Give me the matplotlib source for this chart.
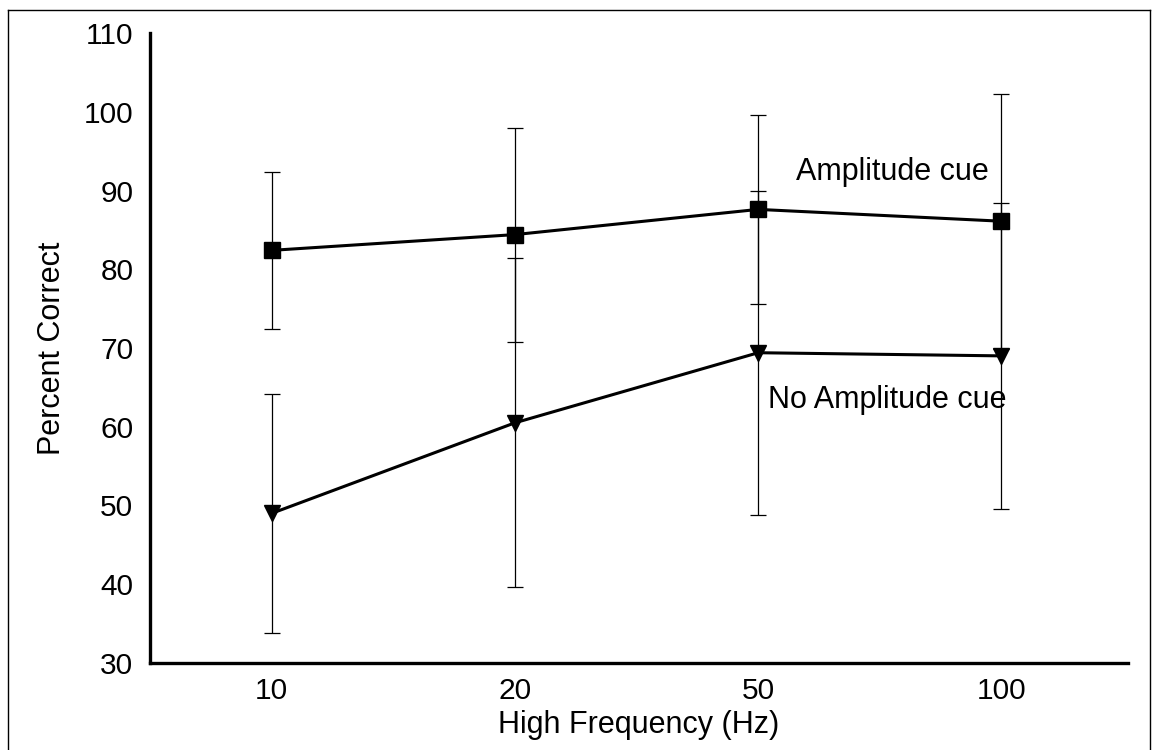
import matplotlib
matplotlib.use("Agg")
import matplotlib.pyplot as plt
from matplotlib.lines import Line2D

categories = ["10", "20", "50", "100"]
amp_mean = [82.4, 84.4, 87.6, 86.1]
amp_err = [10.0, 13.6, 12.0, 16.2]
noamp_mean = [49.0, 60.5, 69.4, 69.0]
noamp_err = [15.2, 20.9, 20.6, 19.4]
yticks = [30, 40, 50, 60, 70, 80, 90, 100, 110]

plt.rcParams['font.family'] = ['Liberation Sans', 'DejaVu Sans']

fig = plt.figure(figsize=(11.54, 7.5), dpi=100)
ax = fig.add_axes([150/1154, (750-663)/750, (1128-150)/1154, (663-33)/750])

x = list(range(len(categories)))

ax.errorbar(x, amp_mean, yerr=amp_err, fmt='none', ecolor='black',
            elinewidth=0.9, capsize=6, capthick=0.9, zorder=2)
ax.errorbar(x, noamp_mean, yerr=noamp_err, fmt='none', ecolor='black',
            elinewidth=0.9, capsize=6, capthick=0.9, zorder=2)
ax.plot(x, amp_mean, color='black', lw=2.2, marker='s', ms=12, zorder=3)
ax.plot(x, noamp_mean, color='black', lw=2.2, marker='v', ms=12, zorder=3)

ax.set_xlim(-0.5, 3.52)
ax.set_ylim(30, 110)
ax.set_xticks(x)
ax.set_xticklabels(categories)
ax.set_yticks(yticks)
ax.tick_params(axis='both', length=0, labelsize=21.5, pad=12)
ax.tick_params(axis='x', pad=10)
for s in ['top', 'right']:
    ax.spines[s].set_visible(False)
for s in ['left', 'bottom']:
    ax.spines[s].set_linewidth(2.4)

ax.set_xlabel("High Frequency (Hz)", fontsize=22, labelpad=4)
ax.set_ylabel("Percent Correct", fontsize=22, labelpad=12)

ax.text(2.55, 92.3, "Amplitude cue", fontsize=22, ha='center', va='center')
ax.text(2.53, 63.4, "No Amplitude cue", fontsize=22, ha='center', va='center')

# figure frame (left, top, right)
fx = lambda px: px / 1154
fy = lambda py: 1 - py / 750
fig.add_artist(Line2D([fx(8), fx(8)], [fy(10), fy(760)], color='black', lw=1))
fig.add_artist(Line2D([fx(8), fx(1150)], [fy(10), fy(10)], color='black', lw=1))
fig.add_artist(Line2D([fx(1150), fx(1150)], [fy(10), fy(760)], color='black', lw=1))

fig.savefig("out.png", dpi=100)
